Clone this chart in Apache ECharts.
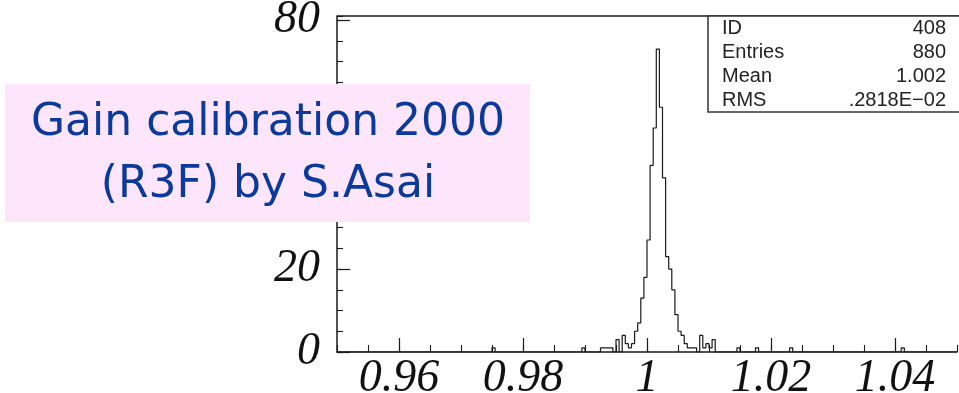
<!DOCTYPE html>
<html>
<head>
<meta charset="utf-8">
<script src="https://cdn.jsdelivr.net/npm/echarts@6/dist/echarts.min.js"></script>
<style>
  html, body { margin: 0; padding: 0; background: #fff; }
  #chart { width: 959px; height: 393px; }
</style>
</head>
<body>
<div id="chart"></div>
<script>
// histogram: 200 bins from 0.95 to 1.05
var binLow = 0.95;
var binWidth = 0.0005;
var counts = [
  0,0,0,0,0,0,0,0,0,0,0,0,0,0,0,0,0,0,0,0,
  0,0,0,0,0,0,0,0,0,0,0,0,0,0,0,0,0,0,0,0,
  0,0,0,0,0,0,0,0,0,0,1,0,0,0,0,0,0,0,0,0,
  0,0,0,0,0,0,0,0,0,0,0,0,0,0,0,0,0,0,0,1,
  0,0,0,0,0,1,1,1,1,0,3,0,4,2,1,2,5,7,13,18,
  27,45,54,73,59,42,23,20,15,9,5,4,2,1,1,1,0,4,1,2,
  1,3,0,0,0,0,0,0,0,1,0,0,0,0,0,1,0,0,0,0,
  0,0,0,0,0,0,1,0,0,0,0,0,0,0,0,0,0,0,0,0,
  0,0,0,0,0,0,0,0,0,0,0,0,0,0,0,0,0,0,0,0,
  0,0,1,0,0,0,0,0,0,0,0,0,0,0,0,0,0,0,0,0
];
var xTicks = [0.96, 0.98, 1, 1.02, 1.04];
var yTicks = [0, 20, 40, 60, 80];
var statNames = ['ID', 'Entries', 'Mean', 'RMS'];
var statValues = ['408', '880', '1.002', '.2818E\u221202'];
var titleLines = ['Gain calibration 2000', '(R3F) by S.Asai'];

var pts = [];
for (var i = 0; i < counts.length; i++) {
  pts.push([+(binLow + i * binWidth).toFixed(4), counts[i]]);
}
pts.push([+(binLow + counts.length * binWidth).toFixed(4), 0]);

var ink = '#1a1a1a';
var labelFont = {
  fontFamily: 'Liberation Serif',
  fontStyle: 'italic',
  fontSize: 46,
  color: '#111'
};

var chart = echarts.init(document.getElementById('chart'), null, { renderer: 'canvas' });

// stats box texts
var statGraphics = [];
var rowY = [28, 52, 76, 100];
for (var k = 0; k < statNames.length; k++) {
  statGraphics.push({
    type: 'text', z: 20, x: 722, y: rowY[k],
    style: { text: statNames[k], font: '20px "Liberation Sans"', fill: '#222',
      textAlign: 'left', textVerticalAlign: 'middle' }
  });
  statGraphics.push({
    type: 'text', z: 20, x: 946, y: rowY[k],
    style: { text: statValues[k], font: '20px "Liberation Sans"', fill: '#222',
      textAlign: 'right', textVerticalAlign: 'middle' }
  });
}

var option = {
  animation: false,
  backgroundColor: '#fff',
  grid: {
    left: 337, right: 2, top: 16, bottom: 41,
    containLabel: false,
    outerBoundsMode: 'none'
  },
  xAxis: [{
    type: 'value', min: 0.95, max: 1.05, position: 'bottom',
    axisLine: { show: true, onZero: false, lineStyle: { color: ink, width: 1.5 } },
    axisTick: { show: true, inside: true, length: 14, customValues: xTicks, lineStyle: { color: ink, width: 1.2 } },
    axisLabel: Object.assign({ show: true, margin: 4, customValues: xTicks,
      formatter: function (v) { return String(+v.toFixed(2)); } }, labelFont),
    splitLine: { show: false }
  }, {
    type: 'value', min: 0.95, max: 1.05, interval: 0.005, position: 'bottom',
    axisLine: { show: false, onZero: false },
    axisTick: { show: true, inside: true, length: 7, lineStyle: { color: ink, width: 1.1 } },
    axisLabel: { show: false },
    splitLine: { show: false }
  }],
  yAxis: [{
    type: 'value', min: 0, max: 81, position: 'left',
    axisLine: { show: true, onZero: false, lineStyle: { color: ink, width: 1.5 } },
    axisTick: { show: true, inside: true, length: 13, customValues: yTicks, lineStyle: { color: ink, width: 1.2 } },
    axisLabel: Object.assign({ show: true, margin: 17, customValues: yTicks }, labelFont),
    splitLine: { show: false }
  }, {
    type: 'value', min: 0, max: 81, interval: 5, position: 'left',
    axisLine: { show: false, onZero: false },
    axisTick: { show: true, inside: true, length: 6, lineStyle: { color: ink, width: 1.1 } },
    axisLabel: { show: false },
    splitLine: { show: false }
  }],
  series: [{
    type: 'line',
    xAxisIndex: 0, yAxisIndex: 0,
    step: 'end',
    data: pts,
    showSymbol: false,
    symbol: 'none',
    lineStyle: { color: ink, width: 1.2 },
    z: 5
  }],
  graphic: [
    // top frame line
    { type: 'line', z: 10, shape: { x1: 337, y1: 16, x2: 959, y2: 16 },
      style: { stroke: ink, lineWidth: 1.5 } },
    // stats box
    { type: 'rect', z: 15, shape: { x: 708, y: 16, width: 260, height: 96 },
      style: { fill: '#fff', stroke: '#333', lineWidth: 1.5 } }
  ].concat(statGraphics).concat([
    // pink title label
    { type: 'rect', z: 30, shape: { x: 5, y: 84, width: 525, height: 138 },
      style: { fill: '#fde5fc' } },
    { type: 'text', z: 31, x: 268, y: 124,
      style: { text: titleLines[0], font: '44px "DejaVu Sans"', fill: '#0b3a9a',
        textAlign: 'center', textVerticalAlign: 'middle' } },
    { type: 'text', z: 31, x: 268, y: 186,
      style: { text: titleLines[1], font: '44px "DejaVu Sans"', fill: '#0b3a9a',
        textAlign: 'center', textVerticalAlign: 'middle' } }
  ])
};

chart.setOption(option);
</script>
</body>
</html>
